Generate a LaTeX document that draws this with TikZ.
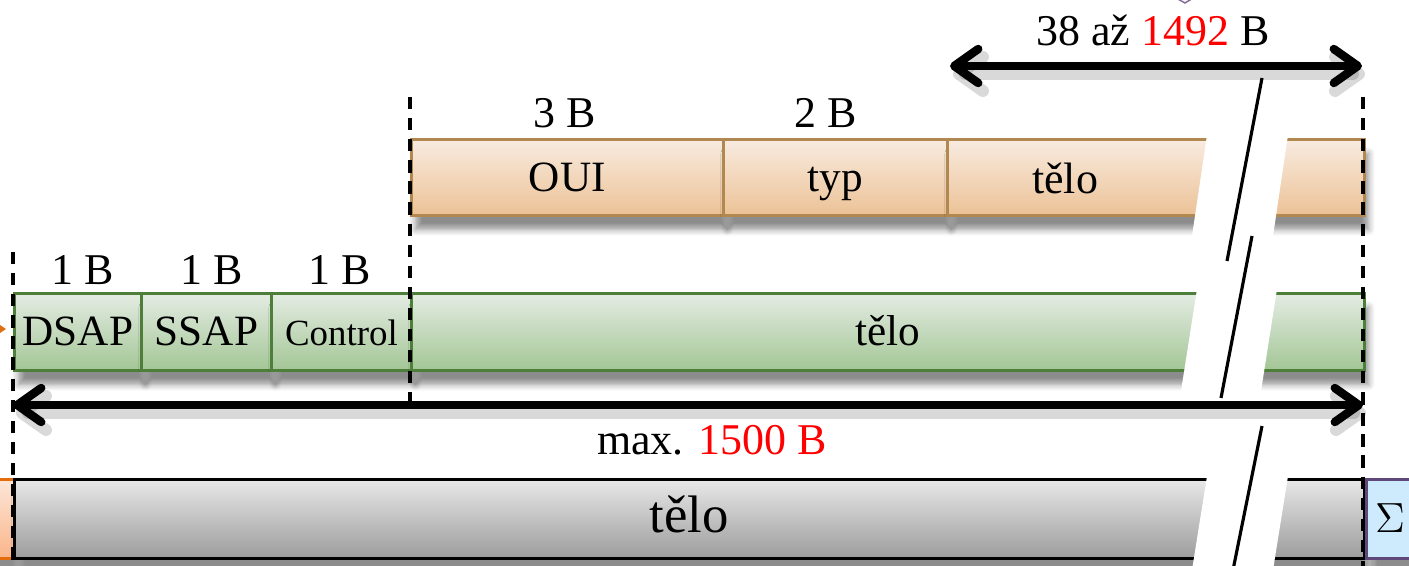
\documentclass[tikz,border=0pt]{standalone}
\usepackage{fontspec}
\setmainfont{Liberation Serif}
\usetikzlibrary{arrows.meta,shadows.blur}

\definecolor{snapTop}{HTML}{F8EBE0}
\definecolor{snapBot}{HTML}{ECC296}
\definecolor{snapLine}{HTML}{B08850}
\definecolor{llcTop}{HTML}{E4ECE2}
\definecolor{llcBot}{HTML}{A3C696}
\definecolor{llcLine}{HTML}{4E7F3A}
\definecolor{bodyTop}{HTML}{E8E8E8}
\definecolor{bodyBot}{HTML}{9C9C9C}
\definecolor{fcsFill}{HTML}{CDEBFD}
\definecolor{fcsLine}{HTML}{5F497A}
\definecolor{hdrTop}{HTML}{FDE6D8}
\definecolor{hdrBot}{HTML}{FAB58A}
\definecolor{hdrLine}{HTML}{E46C0A}

\tikzset{
  field/.style={draw, inner sep=0pt, anchor=north west, line width=.8pt,
    font=\fontsize{12.3}{15}\selectfont, text height=2.2ex, text depth=.5ex,
    blur shadow={shadow xshift=.4mm, shadow yshift=-1.4mm, shadow blur steps=6, shadow opacity=45}},
  snap/.style={field, draw=snapLine, top color=snapTop, bottom color=snapBot, minimum height=7.6mm},
  llc/.style={field, draw=llcLine, top color=llcTop, bottom color=llcBot, minimum height=7.7mm},
  size/.style={font=\fontsize{12.5}{15}\selectfont},
  bound/.style={line width=1pt, dash pattern=on 3.5pt off 2.5pt},
  span/.style={line width=2.4pt, line cap=round,
    {Straight Barb[length=2.4mm,width=3.4mm,round]}-{Straight Barb[length=2.4mm,width=3.4mm,round]}},
  spanshade/.style={span, black, opacity=.15, line width=3.4pt},
  gap/.style={fill=white, draw=none},
  cut/.style={line width=.9pt}
}

\begin{document}
\begin{tikzpicture}
\useasboundingbox (0,0) rectangle (14.09,-5.66);
\clip (0,0) rectangle (14.09,-5.66);

% tip of the shape above
\draw[fcsLine!80, fill=black!4] (11.74,0.03) -- (11.85,-0.03) -- (11.95,0.03);
% arrow coming from the left
\draw[hdrLine!80!brown, line width=1pt, -{Stealth[length=1.2mm,width=1.6mm]}] (-0.3,-3.29) -- (0.06,-3.29);

% SNAP header
\node[snap, minimum width=31.2mm] (oui) at (4.10,-1.38) {OUI};
\node[snap, minimum width=22.4mm] (typ) at (7.22,-1.38) {typ};
\node[snap, minimum width=41.7mm] (snapbody) at (9.46,-1.38) {};
\node[size] (snaptext) at (10.65,-1.78) {tělo};
\node[size] (ouisize) at (5.65,-1.13) {3 B};
\node[size] (typsize) at (8.26,-1.13) {2 B};

% LLC header
\node[llc, minimum width=12.7mm] (dsap) at (0.13,-2.92) {DSAP};
\node[llc, minimum width=13.0mm] (ssap) at (1.40,-2.92) {SSAP};
\node[llc, minimum width=14.0mm, font=\fontsize{10.5}{12}\selectfont] (ctrl) at (2.70,-2.92) {Control};
\node[llc, minimum width=95.3mm] (llcbody) at (4.10,-2.92) {tělo};
\foreach \n/\x in {dsapsize/0.83, ssapsize/2.12, ctrlsize/3.40}
  \node[size] (\n) at (\x,-2.70) {1 B};

% frame
\node[field, draw=hdrLine, top color=hdrTop, bottom color=hdrBot, minimum width=5mm, minimum height=7.9mm] (hdr) at (-0.37,-4.78) {};
\node[field, draw=black, top color=bodyTop, bottom color=bodyBot, minimum width=135mm, minimum height=7.9mm, font=\fontsize{15}{18}\selectfont] (framebody) at (0.13,-4.78) {tělo};
\node[field, draw=fcsLine, fill=fcsFill, minimum width=4.7mm, minimum height=7.9mm, font=\fontsize{12.5}{15}\selectfont] (fcs) at (13.65,-4.78) {$\Sigma$};

% field boundaries
\draw[bound] (0.13,-2.52) -- (0.13,-5.66);
\draw[bound] (4.10,-0.97) -- (4.10,-4.12);
\draw[bound] (13.63,-0.97) -- (13.63,-5.66);

% lengths
\coordinate (topL) at (9.50,-0.66);
\coordinate (topR) at (13.62,-0.66);
\coordinate (botL) at (0.13,-4.05);
\coordinate (botR) at (13.63,-4.05);
\draw[spanshade, transform canvas={xshift=.3mm, yshift=-.8mm}] (topL) -- (topR);
\draw[spanshade, transform canvas={xshift=.3mm, yshift=-.8mm}] (botL) -- (botR);
\draw[span] (topL) -- (topR);
\draw[span] (botL) -- (botR);
\node[size] (toplen) at (11.53,-0.30) {38 až \textcolor{red}{1492} B};
\node[size] (botlen) at (7.12,-4.40) {max. \textcolor{red}{1500 B}};

% break in the fields
\fill[gap] (12.07,-1.35) -- (12.88,-1.35) -- (12.73,-2.36) -- (11.92,-2.36) -- cycle;
\fill[gap] (11.97,-2.89) -- (12.77,-2.89) -- (12.61,-3.91) -- (11.81,-3.91) -- cycle;
\fill[gap] (12.07,-4.76) -- (12.88,-4.76) -- (12.73,-5.70) -- (11.92,-5.70) -- cycle;
\draw[cut] (12.62,-0.78) -- (12.27,-2.61);
\draw[cut] (12.52,-2.36) -- (12.21,-3.98);
\draw[cut] (12.62,-4.26) -- (12.33,-5.70);
\end{tikzpicture}
\end{document}
